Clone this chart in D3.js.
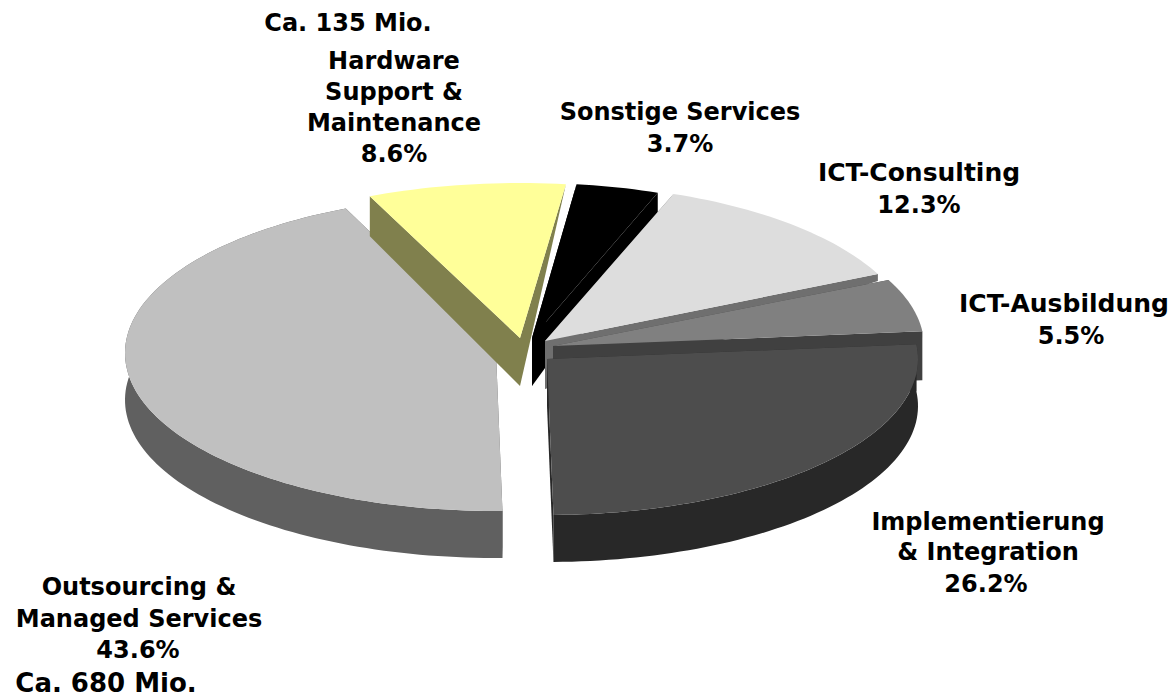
<!DOCTYPE html>
<html><head><meta charset="utf-8">
<script src="https://cdn.jsdelivr.net/npm/d3@7"></script>
<style>html,body{margin:0;background:#fff}svg{display:block}
text{font-family:"DejaVu Sans",Verdana,sans-serif;font-weight:700;fill:#000}</style>
</head><body><svg id="c" width="1174" height="699"></svg>
<script>
const categories = ["Outsourcing & Managed Services","Hardware Support & Maintenance","Sonstige Services","ICT-Consulting","ICT-Ausbildung","Implementierung & Integration"];
const shares = [43.6,8.6,3.7,12.3,5.5,26.2];
const topColors = ["#C0C0C0","#FFFF99","#000000","#DDDDDD","#808080","#4D4D4D"];
const wallColors = ["#606060","#80804D","#000000","#6F6F6F","#404040","#282828"];
// per-slice exploded centre (x, y) and radii
const centerX = [496,520,532,545,553,547];
const centerY = [353,338,338,341,346,359];
const radiusY = [158,155,155,157,155,156];
const radiusX = [371,371,360,368,371,371];
// extrusion depth at apex, at the two cut corners, and of the rim
const apexDepth = [47,48,48,48,48,47];
const startDepth = [47,40,0,0,7,47];
const endDepth = [47,0,20,7,49,47];
const rimDepth = [47,0,0,0,0,47];
const drawOrder = [0,2,1,3,4,5];
const labelLines = [
 ["Ca. 135 Mio.",348,31,24],["Hardware",394,69,24],["Support &",394,100,24],["Maintenance",394,131,24],["8.6%",394,162,24],
 ["Sonstige Services",680,120,24],["3.7%",680,152,24],
 ["ICT-Consulting",919,181,25],["12.3%",919,213,24],
 ["ICT-Ausbildung",1064,312,25],["5.5%",1071,344,24],
 ["Implementierung",988,530,24],["& Integration",988,560,24],["26.2%",986,592,24],
 ["Outsourcing &",139,595,24],["Managed Services",139,627,24],["43.6%",138,658,24],["Ca. 680 Mio.",106,692,26]
];
const rad = d=>d*Math.PI/180;
const arcs = d3.pie().sort(null).startAngle(rad(179)).endAngle(rad(539))(shares);
const svg = d3.select("#c");
const line = d3.line();
drawOrder.forEach(i=>{
  const a = arcs[i];
  const x = d3.scaleLinear().domain([-1,1]).range([centerX[i]-radiusX[i],centerX[i]+radiusX[i]]);
  const y = d3.scaleLinear().domain([-1,1]).range([centerY[i]+radiusY[i],centerY[i]-radiusY[i]]);
  const pt = (t,dep=0)=>[x(Math.sin(t)),y(Math.cos(t))+dep];
  const apex = (dep=0)=>[x(0),y(0)+dep];
  const n = Math.ceil((a.endAngle-a.startAngle)*40);
  const ts = d3.range(n+1).map(k=>a.startAngle+(a.endAngle-a.startAngle)*k/n);
  const g = svg.append("g");
  // cut walls
  [[a.startAngle,startDepth[i]],[a.endAngle,endDepth[i]]].forEach(([t,dep])=>{
    g.append("path").attr("fill",wallColors[i])
      .attr("d",line([apex(),pt(t),pt(t,dep),apex(apexDepth[i])])+"Z");
  });
  // rim wall
  if(rimDepth[i]>0){
    const pts = ts.map(t=>pt(t)).concat(ts.slice().reverse().map(t=>pt(t,rimDepth[i])));
    g.append("path").attr("fill",wallColors[i]).attr("d",line(pts)+"Z");
  }
  // top face
  g.append("path").attr("fill",topColors[i])
    .attr("d",line([apex()].concat(ts.map(t=>pt(t))))+"Z");
});
svg.selectAll("text.l").data(labelLines).join("text").attr("class","l")
  .attr("text-anchor","middle").attr("x",d=>d[1]).attr("y",d=>d[2]).style("font-size",d=>d[3]+"px").text(d=>d[0]);
</script></body></html>
